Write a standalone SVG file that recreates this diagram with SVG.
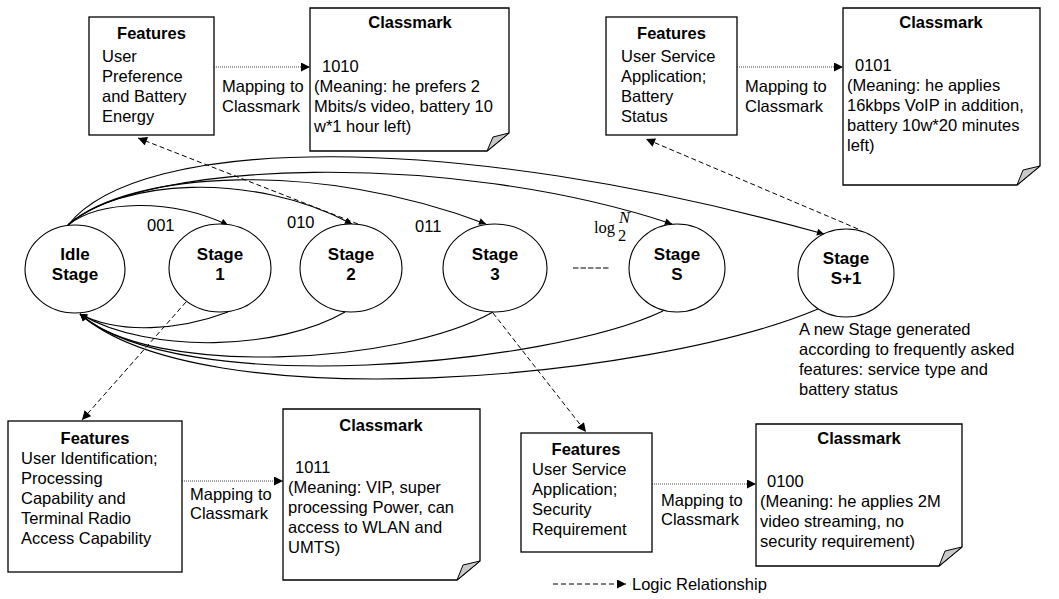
<svg xmlns="http://www.w3.org/2000/svg" width="1059" height="599" viewBox="0 0 1059 599">
<style>
text{font-family:"Liberation Sans",Arial,sans-serif;font-size:16.5px;fill:#000}
.b{font-weight:bold}
.s{font-weight:bold;font-size:17px;text-anchor:middle}
.c{text-anchor:middle}
.box{fill:#fff;stroke:#000;stroke-width:1.3}
.fold{fill:#c8c8c8;stroke:#000;stroke-width:1}
.st{fill:#fff;stroke:#000;stroke-width:1.1}
.arc{fill:none;stroke:#000;stroke-width:1.1}
.dash{fill:none;stroke:#000;stroke-width:1;stroke-dasharray:5 3}
.dot{fill:none;stroke:#444;stroke-width:1;stroke-dasharray:1 1}
.serif{font-family:"Liberation Serif","Times New Roman",serif}
</style>
<defs>
<marker id="big" viewBox="0 0 10 10" refX="10" refY="5" markerWidth="10" markerHeight="9" markerUnits="userSpaceOnUse" orient="auto">
<path d="M0,0 L10,5 L0,10 z" fill="#000"/>
</marker>
<marker id="sm" viewBox="0 0 10 10" refX="10" refY="5" markerWidth="9" markerHeight="7" markerUnits="userSpaceOnUse" orient="auto">
<path d="M0,0 L10,5 L0,10 z" fill="#000"/>
</marker>
</defs>

<g id="connectors">
<!-- forward arcs -->
<path class="arc" d="M68,225 C100,200 170,198 228,225" marker-end="url(#sm)"/>
<path class="arc" d="M68,225 C120,180 250,170 352,224" marker-end="url(#sm)"/>
<path class="arc" d="M68,225 C130,170 320,160 486,224" marker-end="url(#sm)"/>
<path class="arc" d="M68,225 C140,160 450,150 672,224" marker-end="url(#sm)"/>
<path class="arc" d="M68,225 C140,135 450,130 824,234" marker-end="url(#sm)"/>
<!-- return arcs -->
<path class="arc" d="M228,312 C180,330 120,335 80,314" marker-end="url(#sm)"/>
<path class="arc" d="M345,312 C280,350 150,355 80,314" marker-end="url(#sm)"/>
<path class="arc" d="M493,312 C400,365 150,378 80,314" marker-end="url(#sm)"/>
<path class="arc" d="M663,311 C550,365 180,400 80,314" marker-end="url(#sm)"/>
<path class="arc" d="M818,309 C650,380 200,420 80,314" marker-end="url(#sm)"/>
<!-- logic relationships -->
<path class="dash" d="M358,224 L138,138" marker-end="url(#big)"/>
<path class="dash" d="M858,229 L646,139" marker-end="url(#big)"/>
<path class="dash" d="M186,302 L82,420" marker-end="url(#big)"/>
<path class="dash" d="M493,313 L586,432" marker-end="url(#big)"/>
<!-- mapping -->
<path class="dot" d="M214,67 L310,67" marker-end="url(#big)"/>
<path class="dot" d="M737,67 L843,67" marker-end="url(#big)"/>
<path class="dot" d="M182,481 L283,481" marker-end="url(#big)"/>
<path class="dot" d="M652,484 L756,484" marker-end="url(#big)"/>
<text x="222" y="92">Mapping to</text>
<text x="222" y="112">Classmark</text>
<text x="745" y="92">Mapping to</text>
<text x="745" y="112">Classmark</text>
<text x="190" y="500">Mapping to</text>
<text x="190" y="519">Classmark</text>
<text x="661" y="506">Mapping to</text>
<text x="661" y="525">Classmark</text>
</g>

<g id="features1">
<rect class="box" x="89" y="17" width="125" height="118"/>
<text class="b c" x="151.5" y="39">Features</text>
<text x="102" y="62">User</text>
<text x="102" y="82">Preference</text>
<text x="102" y="102">and Battery</text>
<text x="102" y="122">Energy</text>
</g>

<g id="classmark1">
<path class="box" d="M310,8 H509 V133 L487,151 H310 Z"/>
<path class="fold" d="M509,133 L487,151 L493,137 Z"/>
<text class="b c" x="410" y="28">Classmark</text>
<text x="322" y="72">1010</text>
<text x="314" y="92">(Meaning: he prefers 2</text>
<text x="314" y="112">Mbits/s video, battery 10</text>
<text x="314" y="132">w*1 hour left)</text>
</g>

<g id="features2">
<rect class="box" x="606" y="17" width="131" height="118"/>
<text class="b c" x="671.5" y="39">Features</text>
<text x="621" y="62">User Service</text>
<text x="621" y="82">Application;</text>
<text x="621" y="102">Battery</text>
<text x="621" y="122">Status</text>
</g>

<g id="classmark2">
<path class="box" d="M843,8 H1040 V166 L1017,185 H843 Z"/>
<path class="fold" d="M1040,166 L1017,185 L1023,170 Z"/>
<text class="b c" x="941" y="28">Classmark</text>
<text x="855" y="71">0101</text>
<text x="847" y="91">(Meaning: he applies</text>
<text x="847" y="111">16kbps VoIP in addition,</text>
<text x="847" y="131">battery 10w*20 minutes</text>
<text x="847" y="151">left)</text>
</g>

<g id="idle">
<ellipse class="st" cx="75" cy="269" rx="50" ry="44"/>
<text class="s" x="75" y="260">Idle</text>
<text class="s" x="75" y="280">Stage</text>
</g>
<g id="stage1">
<ellipse class="st" cx="220" cy="268" rx="51" ry="44"/>
<text class="s" x="220" y="260">Stage</text>
<text class="s" x="220" y="280">1</text>
</g>
<g id="stage2">
<ellipse class="st" cx="351" cy="268" rx="51" ry="44"/>
<text class="s" x="351" y="260">Stage</text>
<text class="s" x="351" y="280">2</text>
</g>
<g id="stage3">
<ellipse class="st" cx="495" cy="268" rx="52" ry="44"/>
<text class="s" x="495" y="260">Stage</text>
<text class="s" x="495" y="280">3</text>
</g>
<g id="stageS">
<ellipse class="st" cx="677" cy="268" rx="48" ry="44"/>
<text class="s" x="677" y="260">Stage</text>
<text class="s" x="677" y="280">S</text>
</g>
<g id="stageS1">
<ellipse class="st" cx="846" cy="273" rx="48" ry="44" stroke-width="3"/>
<text class="s" x="846" y="264">Stage</text>
<text class="s" x="846" y="284">S+1</text>
<text x="799" y="335">A new Stage generated</text>
<text x="799" y="355">according to frequently asked</text>
<text x="799" y="375">features: service type and</text>
<text x="799" y="395">battery status</text>
</g>

<g id="labels">
<text x="147" y="231">001</text>
<text x="287" y="228">010</text>
<text x="415" y="232">011</text>
<text class="serif" x="594" y="233" font-size="19">log</text>
<text class="serif" x="618" y="241" font-size="11">2</text>
<text class="serif" x="619" y="223" font-size="11" font-style="italic">N</text>
<line x1="573" y1="268" x2="609" y2="268" stroke="#000" stroke-width="1" stroke-dasharray="5.5 2"/>
</g>

<g id="features3">
<rect class="box" x="8" y="421" width="174" height="151"/>
<text class="b c" x="95" y="444">Features</text>
<text x="21" y="464">User Identification;</text>
<text x="21" y="484">Processing</text>
<text x="21" y="504">Capability and</text>
<text x="21" y="524">Terminal Radio</text>
<text x="21" y="544">Access Capability</text>
</g>

<g id="classmark3">
<path class="box" d="M283,409 H480 V561 L457,580 H283 Z"/>
<path class="fold" d="M480,561 L457,580 L463,565 Z"/>
<text class="b c" x="381" y="431">Classmark</text>
<text x="295" y="473">1011</text>
<text x="288" y="493">(Meaning: VIP, super</text>
<text x="288" y="513">processing Power, can</text>
<text x="288" y="533">access to WLAN and</text>
<text x="288" y="553">UMTS)</text>
</g>

<g id="features4">
<rect class="box" x="521" y="433" width="131" height="119"/>
<text class="b c" x="586" y="455">Features</text>
<text x="532" y="475">User Service</text>
<text x="532" y="495">Application;</text>
<text x="532" y="515">Security</text>
<text x="532" y="535">Requirement</text>
</g>

<g id="classmark4">
<path class="box" d="M756,424 H962 V547 L939,566 H756 Z"/>
<path class="fold" d="M962,547 L939,566 L945,551 Z"/>
<text class="b c" x="859" y="444">Classmark</text>
<text x="767" y="487">0100</text>
<text x="760" y="507">(Meaning: he applies 2M</text>
<text x="760" y="527">video streaming, no</text>
<text x="760" y="547">security requirement)</text>
</g>

<g id="legend">
<path class="dash" d="M553,584 L626,584" marker-end="url(#big)"/>
<text x="632" y="590">Logic Relationship</text>
</g>
</svg>
